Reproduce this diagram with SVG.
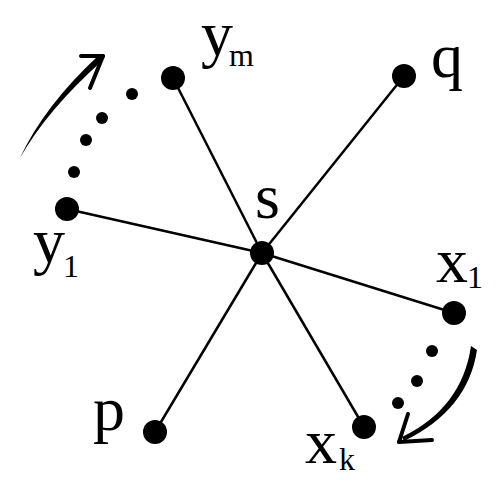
<svg xmlns="http://www.w3.org/2000/svg" width="500" height="500" viewBox="0 0 500 500">
<style>
.edge{stroke:#000;stroke-width:2.5;fill:none}
.node{fill:#000}
.lbl{font-family:"Liberation Serif","Times New Roman",serif;font-size:64px;fill:#000}
.sub{font-family:"Liberation Serif","Times New Roman",serif;font-size:32px;fill:#000}
.arm{stroke:#000;stroke-width:4;stroke-linecap:round;fill:none}
</style>
<rect width="500" height="500" fill="#fff"/>
<g id="connectors">
<line class="edge" x1="262" y1="253" x2="173" y2="78"/>
<line class="edge" x1="262" y1="253" x2="404" y2="76"/>
<line class="edge" x1="262" y1="253" x2="67" y2="209"/>
<line class="edge" x1="262" y1="253" x2="454" y2="313"/>
<line class="edge" x1="262" y1="253" x2="155" y2="432"/>
<line class="edge" x1="262" y1="253" x2="364" y2="427"/>
</g>
<g id="s"><circle class="node" cx="262" cy="253" r="12"/><text class="lbl" x="255" y="218">s</text></g>
<g id="ym"><circle class="node" cx="173" cy="78" r="12"/><text class="lbl" x="201" y="55">y</text><text class="sub" x="229" y="66" font-size="34">m</text></g>
<g id="q"><circle class="node" cx="404" cy="76" r="12"/><text class="lbl" x="431" y="77">q</text></g>
<g id="y1"><circle class="node" cx="67" cy="209" r="12"/><text class="lbl" x="33" y="262">y</text><text class="sub" x="63" y="277" font-size="30">1</text></g>
<g id="x1"><circle class="node" cx="454" cy="313" r="12"/><text class="lbl" x="436" y="282">x</text><text class="sub" x="467" y="288" font-size="30">1</text></g>
<g id="p"><circle class="node" cx="155" cy="432" r="12"/><text class="lbl" x="93" y="430">p</text></g>
<g id="xk"><circle class="node" cx="364" cy="427" r="12"/><text class="lbl" x="305" y="463">x</text><text class="sub" x="339" y="470">k</text></g>
<g id="dots">
<circle class="node" cx="132" cy="94" r="6"/>
<circle class="node" cx="102" cy="118" r="6"/>
<circle class="node" cx="86" cy="140" r="6"/>
<circle class="node" cx="74" cy="172" r="6"/>
<circle class="node" cx="432" cy="351" r="6"/>
<circle class="node" cx="417" cy="381" r="6"/>
<circle class="node" cx="398" cy="403" r="6"/>
</g>
<g id="arrows">
<path d="M20,158 Q47,110 103,60 L99,55 Q44,106 20,158 Z" fill="#000"/>
<path d="M81,56 L103,56" class="arm" stroke-width="5" stroke-linecap="butt"/>
<path d="M103,56 L90,88" class="arm" stroke-width="3.5"/>
<path d="M471,346 L477,350 Q468,410 404,441 L402,437 Q462,408 471,346 Z" fill="#000"/>
<path d="M408,414 L399,442" class="arm" stroke-width="4"/>
<path d="M399,442 L432,440" class="arm" stroke-width="4.5"/>
</g>
</svg>
